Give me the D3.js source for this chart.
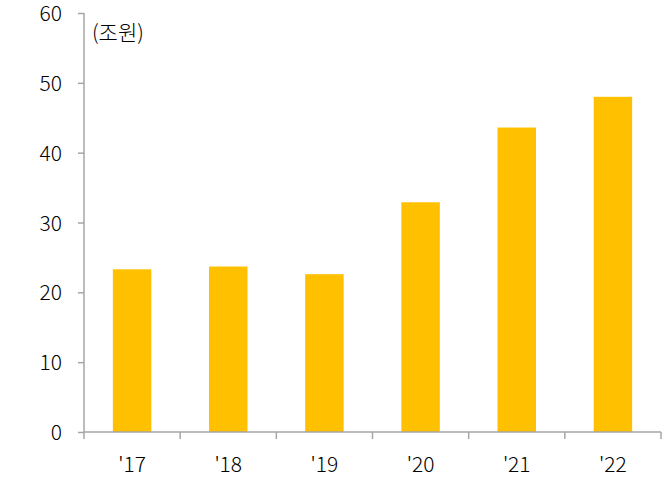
<!DOCTYPE html>
<html><head><meta charset="utf-8">
<script src="https://cdn.jsdelivr.net/npm/d3@7"></script>
<style>
body{margin:0;background:#fff;}
svg text{font-family:"Noto Sans CJK KR","Noto Sans",sans-serif;font-weight:300;fill:#000;}
</style></head>
<body>
<svg id="c" width="669" height="487"></svg>
<script>
const categories = ["'17","'18","'19","'20","'21","'22"];
const values = [23.3, 23.7, 22.6, 32.9, 43.6, 48.0];
const yTicks = [0,10,20,30,40,50,60];
const unitLabel = "(조원)";

const svg = d3.select("#c");
const mLeft = 84, mRight = 661, mTop = 13, mBottom = 432;
const x = d3.scaleBand().domain(categories).range([mLeft, mRight]).paddingInner(0.6).paddingOuter(0.3);
const y = d3.scaleLinear().domain([0,60]).range([mBottom, mTop]);
const axisColor = "#a6a6a6";

svg.selectAll("rect.bar").data(values).join("rect")
  .attr("class","bar")
  .attr("x",(d,i)=>x(categories[i]))
  .attr("width",x.bandwidth())
  .attr("y",d=>y(d))
  .attr("height",d=>mBottom-y(d))
  .attr("fill","#FFC000");

// y axis
const ya = svg.append("g").attr("transform",`translate(${mLeft},0)`)
  .call(d3.axisLeft(y).tickValues(yTicks).tickSize(6).tickPadding(16).tickFormat(d3.format("d")));
ya.select(".domain").attr("stroke",axisColor).attr("stroke-width",1.5).attr("d",`M0,${mTop}V${mBottom}`);
ya.selectAll(".tick line").attr("stroke",axisColor).attr("stroke-width",1.5);
ya.selectAll(".tick text").style("font-size","21px").attr("dy","0.36em");

// x axis
const xa = svg.append("g").attr("transform",`translate(0,${mBottom})`);
xa.append("line").attr("x1",mLeft).attr("x2",mRight).attr("y1",0).attr("y2",0).attr("stroke",axisColor).attr("stroke-width",1.5);
const bounds = d3.range(categories.length+1).map(i=>mLeft + (mRight-mLeft)*i/categories.length);
xa.selectAll("line.t").data(bounds).join("line").attr("class","t")
  .attr("x1",d=>d).attr("x2",d=>d).attr("y1",0).attr("y2",7)
  .attr("stroke",axisColor).attr("stroke-width",1.5);
xa.selectAll("text").data(categories).join("text")
  .attr("x",d=>x(d)+x.bandwidth()/2).attr("y",40)
  .attr("text-anchor","middle").style("font-size","21px").text(d=>d);

svg.append("text").attr("x",92).attr("y",40).style("font-size","21px").text(unitLabel);
</script>
</body></html>
